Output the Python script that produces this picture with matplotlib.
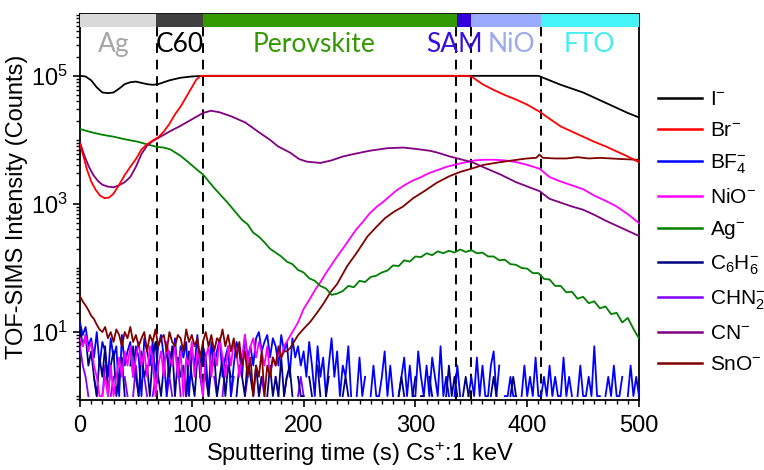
import numpy as np
import matplotlib
matplotlib.use('Agg')
import matplotlib.pyplot as plt
from matplotlib.ticker import LogLocator, NullFormatter, MultipleLocator
import matplotlib.transforms as mtransforms

plt.rcParams['font.family'] = 'Liberation Sans'
plt.rcParams['mathtext.fontset'] = 'custom'
plt.rcParams['mathtext.rm'] = 'Liberation Sans'
plt.rcParams['mathtext.it'] = 'Liberation Sans'
plt.rcParams['mathtext.bf'] = 'Liberation Sans'

# ---- smooth traces: time (s) and log10(counts) ----
i_t = [0, 5, 10, 15, 20, 25, 30, 35, 40, 45, 50, 55, 60, 65, 70, 75, 80, 90, 100, 110,
       410, 420, 430, 440, 450, 460, 470, 480, 490, 500]
i_log = [5.0, 4.99, 4.93, 4.82, 4.74, 4.73, 4.74, 4.80, 4.87, 4.90, 4.91, 4.89, 4.87, 4.86, 4.87,
         4.90, 4.93, 4.97, 4.99, 5.0, 5.0, 4.93, 4.86, 4.80, 4.74, 4.66, 4.58, 4.50, 4.42, 4.35]

br_t = [0, 3, 6, 10, 14, 18, 22, 26, 30, 35, 40, 45, 50, 55, 60, 65, 70, 75, 80, 85, 90, 95,
        100, 104, 108, 345, 350, 360, 370, 380, 390, 400, 411, 420, 430, 440, 450, 460, 470,
        480, 490, 500]
br_log = [3.93, 3.75, 3.55, 3.35, 3.22, 3.13, 3.09, 3.10, 3.16, 3.30, 3.45, 3.58, 3.70, 3.85,
          3.93, 3.99, 4.04, 4.13, 4.25, 4.40, 4.52, 4.67, 4.82, 4.94, 5.0, 5.0, 4.99, 4.87, 4.78,
          4.70, 4.63, 4.55, 4.44, 4.33, 4.21, 4.13, 4.05, 3.97, 3.90, 3.82, 3.74, 3.65]

cn_t = [0, 4, 8, 12, 16, 20, 25, 30, 35, 40, 45, 50, 55, 60, 65, 70, 80, 90, 100, 110, 117,
        125, 135, 148, 160, 170, 177, 188, 196, 203, 215, 225, 235, 245, 259, 275, 289, 300,
        313, 320, 331, 340, 351, 360, 376, 390, 411, 420, 430, 440, 450, 460, 470, 480, 490, 500]
cn_log = [3.96, 3.75, 3.58, 3.45, 3.36, 3.30, 3.27, 3.26, 3.29, 3.34, 3.42, 3.58, 3.78, 3.91,
          3.98, 4.03, 4.13, 4.22, 4.32, 4.42, 4.455, 4.43, 4.37, 4.27, 4.12, 4.00, 3.90, 3.80,
          3.70, 3.66, 3.64, 3.68, 3.74, 3.78, 3.83, 3.87, 3.88, 3.86, 3.83, 3.80, 3.74, 3.70,
          3.65, 3.58, 3.46, 3.34, 3.20, 3.08, 3.02, 2.96, 2.91, 2.83, 2.74, 2.66, 2.58, 2.50]

ag_t = [0, 10, 20, 30, 40, 52, 60, 69, 75, 81, 90, 97, 105, 110, 120, 132, 145,
        150, 155, 160, 165, 170, 175, 180, 185, 190, 195, 200, 205, 210, 215, 220, 225, 230,
        235, 240, 245, 250, 255, 260, 265, 270, 275, 280, 285, 290, 295, 300, 305, 310, 315,
        320, 325, 330, 335, 340, 345, 350, 355, 360, 365, 370, 375, 380, 385, 390, 395, 400,
        405, 410, 415, 420, 425, 430, 435, 440, 445, 450, 455, 460, 465, 470, 475, 480, 485,
        490, 495, 500]
ag_log = [4.17, 4.12, 4.08, 4.05, 4.01, 3.97, 3.93, 3.89, 3.88, 3.85, 3.75, 3.65, 3.53, 3.46,
          3.25, 3.02, 2.75,
          2.68, 2.55, 2.49, 2.40, 2.30, 2.24, 2.18, 2.10, 2.06, 1.97, 1.93, 1.84, 1.80, 1.72,
          1.68, 1.58, 1.60, 1.64, 1.72, 1.70, 1.80, 1.78, 1.86, 1.88, 1.93, 1.96, 2.04, 2.03,
          2.12, 2.10, 2.18, 2.17, 2.23, 2.20, 2.26, 2.23, 2.27, 2.24, 2.29, 2.25, 2.28, 2.23,
          2.24, 2.18, 2.18, 2.12, 2.13, 2.06, 2.05, 2.00, 1.99, 1.92, 1.92, 1.83, 1.82, 1.72,
          1.72, 1.62, 1.63, 1.52, 1.55, 1.45, 1.48, 1.37, 1.40, 1.28, 1.30, 1.15, 1.22, 1.05,
          0.90]

nio_t = [185, 190, 195, 200, 205, 210, 215, 220, 225, 230, 235, 241, 247, 253, 259, 265, 271,
         277, 283, 290, 297, 304, 312, 320, 328, 337, 345, 353, 361, 370, 380, 391, 400, 411,
         420, 430, 440, 450, 460, 470, 480, 490, 500]
nio_log = [0.85, 1.0, 1.15, 1.36, 1.50, 1.65, 1.78, 1.92, 2.05, 2.18, 2.30, 2.45, 2.60, 2.72,
           2.85, 2.95, 3.03, 3.12, 3.21, 3.29, 3.36, 3.41, 3.48, 3.53, 3.58, 3.62, 3.65, 3.68,
           3.69, 3.69, 3.68, 3.65, 3.61, 3.55, 3.42, 3.35, 3.29, 3.23, 3.13, 3.05, 2.96, 2.84,
           2.70]

sno_t = [188, 195, 200, 206, 212, 218, 224, 230, 239, 248, 257, 265, 273, 281, 289, 298, 308,
         319, 330, 340, 350, 361, 375, 391, 400, 408, 411, 414, 425, 435, 445, 455, 465, 475,
         485, 500]
sno_log = [0.75, 0.95, 1.05, 1.16, 1.30, 1.45, 1.62, 1.75, 2.03, 2.25, 2.49, 2.64, 2.78, 2.88,
           2.96, 3.09, 3.20, 3.33, 3.43, 3.50, 3.55, 3.61, 3.65, 3.69, 3.71, 3.72, 3.77, 3.72,
           3.71, 3.71, 3.73, 3.71, 3.72, 3.71, 3.70, 3.69]

# ---- low count traces, one value every 2.5 s (0 = no counts) ----
bf4_counts = [14, 9, 12, 6, 8, 4, 10, 3, 7, 5, 2, 8, 4, 6, 1, 9, 3, 5, 7, 2, 6, 4, 1, 8, 5, 3,
              7, 2, 6, 9, 4, 1, 5, 3, 8, 2, 6, 4, 7, 1, 5, 3, 9, 2, 6, 4, 1, 7, 3, 5, 8, 2, 4,
              6, 1, 3, 7, 5, 2, 9, 4, 6, 3, 8, 10, 5, 7, 9, 4, 8, 6, 3, 9, 5, 7, 2, 8, 4, 6, 3,
              5, 2, 7, 3, 1, 6, 2, 4, 1, 3, 8, 2, 5, 1, 3, 2, 6, 1, 0, 1, 4, 1, 2, 0, 1, 3, 1,
              1, 2, 5, 1, 3, 1, 0, 1, 2, 4, 1, 3, 1, 1, 5, 2, 1, 3, 1, 4, 2, 1, 6, 1, 2, 1, 0,
              1, 3, 1, 0, 0, 1, 2, 1, 4, 1, 3, 1, 1, 3, 5, 1, 3, 0, 1, 1, 2, 1, 1, 0, 1, 3, 1,
              2, 1, 4, 1, 1, 2, 1, 3, 1, 2, 1, 1, 4, 1, 2, 1, 0, 1, 3, 1, 1, 2, 1, 6, 1, 1, 0,
              1, 2, 1, 3, 1, 1, 2, 0, 1, 3, 1, 2, 1]
c6h6_counts = [12, 6, 9, 3, 5, 2, 1, 4, 2, 6, 1, 3, 5, 1, 2, 4, 1, 0, 3, 6, 2, 1, 5, 2, 3, 1,
               4, 7, 2, 1, 3, 5, 2, 6, 1, 4, 2, 3, 1, 5, 2, 1, 4, 3, 6, 2, 1, 3, 5, 1, 2, 4, 1,
               3, 2, 0, 1, 3, 2, 1, 4, 2, 1, 3, 1, 2, 0, 1, 3, 1, 2, 1, 4, 1, 2, 3, 1, 0, 2, 1,
               1, 0, 2, 1, 0, 3, 1, 0, 1, 2, 0, 1, 0, 0, 1, 2, 1, 0, 0, 1, 0, 0, 1, 0, 0, 0, 1,
               0, 0, 0, 0, 1, 0, 0, 1, 2, 1, 0, 0, 1, 2, 0, 1, 1, 0, 2, 1, 0, 1, 0, 0, 1, 3, 1,
               2, 1, 0, 1, 2, 1, 0, 1, 0, 0, 1, 0, 0, 1, 2, 1, 0, 1, 0, 0, 1, 2, 1, 0, 0, 1, 0,
               0, 0, 1, 0, 0, 1, 0, 0, 0, 1, 0, 0, 0, 1, 0, 0, 1, 0, 0, 0, 0, 1, 0, 0, 1, 0, 0,
               0, 1, 0, 0, 0, 0, 1, 0, 0, 1, 0, 0, 0]
chn2_counts = [6, 3, 2, 1, 0, 2, 1, 0, 1, 3, 0, 1, 2, 0, 1, 0, 2, 1, 0, 1, 3, 1, 0, 2, 1, 0, 1,
               2, 0, 1, 0, 1, 2, 1, 0, 3, 1, 0, 1, 2, 0, 1, 0, 2, 1, 0, 1, 0, 2, 1, 0, 1, 3, 0,
               1, 2, 0, 1, 0, 1, 2, 0, 1, 0, 1, 2, 1, 0, 1, 0, 2, 1, 0, 1, 2, 0, 1, 0, 1, 2, 1]
nio_low_counts = [8, 6, 9, 5, 7, 3, 2, 1, 1, 2, 1, 3, 1, 2, 4, 2, 5, 3, 6, 2, 4, 7, 3, 5, 2, 6,
                  4, 1, 3, 5, 2, 7, 4, 3, 6, 2, 5, 1, 4, 3, 7, 2, 5, 3, 1, 4, 6, 2, 5, 3, 8, 4,
                  2, 6, 3, 7, 5, 2, 4, 9, 3, 6, 8, 4, 7, 5, 3, 6, 2, 4, 3, 5, 4, 6]
sno_low_counts = [36, 30, 26, 22, 18, 16, 13, 11, 10, 12, 8, 10, 7, 11, 9, 6, 10, 8, 12, 7, 9, 6,
                  8, 10, 5, 9, 7, 11, 6, 8, 9, 5, 10, 7, 6, 9, 8, 5, 11, 7, 9, 6, 8, 4, 7, 10, 6,
                  9, 5, 8, 7, 11, 6, 9, 5, 8, 4, 7, 3, 5, 2, 4, 1, 3, 2, 5, 1, 3, 2, 4, 3, 6, 4,
                  5, 5]

# ---- layers ----
layer_names = ['Ag', 'C60', 'Perovskite', 'SAM', 'NiO', 'FTO']
layer_edges = [0, 68, 110, 337, 350, 412, 500]
layer_bar_colors = ['#d9d9d9', '#404040', '#339900', '#3300dd', '#99aaff', '#44f4f6']
layer_text_colors = ['#a6a6a6', '#000000', '#339900', '#3311dd', '#99aaee', '#44eef0']
layer_text_x = [30, 89, 209, 335, 386, 456]
boundaries = [69, 110, 336, 350, 412]


def counts(c):
    c = np.array(c, dtype=float)
    c[c <= 0] = np.nan
    return c


def step_t(c, start=0.0):
    return start + np.arange(len(c)) * 2.5


fig = plt.figure(figsize=(7.64, 4.70), dpi=100)
ax = fig.add_axes([0.1047, 0.149, 0.7317, 0.821])

lw = 1.3
ax.plot(step_t(bf4_counts), counts(bf4_counts), color='#0000ff', lw=lw, zorder=3)
ax.plot(step_t(c6h6_counts), counts(c6h6_counts), color='#000080', lw=lw, zorder=3.1)
ax.plot(step_t(chn2_counts), counts(chn2_counts), color='#8000ff', lw=lw, zorder=2.9)

nio_all_t = np.concatenate([step_t(nio_low_counts), nio_t])
nio_all = np.concatenate([counts(nio_low_counts), 10 ** np.array(nio_log)])
ax.plot(nio_all_t, nio_all, color='#ff00ff', lw=lw, zorder=3.2)

sno_all_t = np.concatenate([step_t(sno_low_counts), sno_t])
sno_all = np.concatenate([counts(sno_low_counts), 10 ** np.array(sno_log)])
ax.plot(sno_all_t, sno_all, color='#800000', lw=lw, zorder=3.3)

ax.plot(ag_t, 10 ** np.array(ag_log), color='#008000', lw=lw, zorder=3.4)
ax.plot(cn_t, 10 ** np.array(cn_log), color='#800080', lw=lw, zorder=3.5)
ax.plot(i_t, 10 ** np.array(i_log), color='#000000', lw=lw, zorder=3.6)
ax.plot(br_t, 10 ** np.array(br_log), color='#ff0000', lw=lw, zorder=3.7)

ax.set_yscale('log')
ax.set_xlim(0, 500)
ax.set_ylim(0.87, 9.2e5)

for b in boundaries:
    ax.axvline(b, color='black', lw=1.4, ls=(0, (5, 3.5)), zorder=2)

trans = mtransforms.blended_transform_factory(ax.transData, ax.transAxes)
for k in range(len(layer_names)):
    ax.add_patch(plt.Rectangle((layer_edges[k], 0.967), layer_edges[k + 1] - layer_edges[k],
                               0.033, transform=trans, color=layer_bar_colors[k],
                               lw=0, zorder=4, clip_on=False))
    ax.text(layer_text_x[k], 0.92, layer_names[k], transform=trans, color=layer_text_colors[k],
            fontsize=19, family='Lato', ha='center', va='center', zorder=5)

ax.set_yticks([1e1, 1e3, 1e5])
ax.set_yticklabels([r'$10^1$', r'$10^3$', r'$10^5$'])
ax.yaxis.set_minor_locator(LogLocator(base=10, subs=np.arange(1, 10), numticks=20))
ax.yaxis.set_minor_formatter(NullFormatter())
ax.xaxis.set_major_locator(MultipleLocator(100))
ax.xaxis.set_minor_locator(MultipleLocator(10))
ax.tick_params(axis='both', which='major', labelsize=17, length=5, width=1.2, direction='out')
ax.tick_params(axis='x', which='major', pad=6)
ax.tick_params(axis='both', which='minor', length=3, width=1.0, direction='out')
for s in ax.spines.values():
    s.set_linewidth(1.3)

ax.set_xlabel(r'Sputtering time (s) Cs$^{+}$:1 keV', fontsize=17, labelpad=2)
ax.set_ylabel('TOF-SIMS Intensity (Counts)', fontsize=17, labelpad=2)

handles = [
    plt.Line2D([], [], color='#000000', lw=1.8),
    plt.Line2D([], [], color='#ff0000', lw=1.8),
    plt.Line2D([], [], color='#0000ff', lw=1.8),
    plt.Line2D([], [], color='#ff00ff', lw=1.8),
    plt.Line2D([], [], color='#008000', lw=1.8),
    plt.Line2D([], [], color='#000080', lw=1.8),
    plt.Line2D([], [], color='#8000ff', lw=1.8),
    plt.Line2D([], [], color='#800080', lw=1.8),
    plt.Line2D([], [], color='#800000', lw=1.8),
]
labels = [r'I$^{-}$', r'Br$^{-}$', r'BF$_4^{-}$', r'NiO$^{-}$', r'Ag$^{-}$',
          r'C$_6$H$_6^{-}$', r'CHN$_2^{-}$', r'CN$^{-}$', r'SnO$^{-}$']
fig.legend(handles, labels, loc='upper left', bbox_to_anchor=(0.861, 0.808), frameon=False,
           fontsize=15, handlelength=2.1, handletextpad=0.4, labelspacing=0.58,
           borderaxespad=0, borderpad=0)

fig.savefig('out.png', dpi=100)
